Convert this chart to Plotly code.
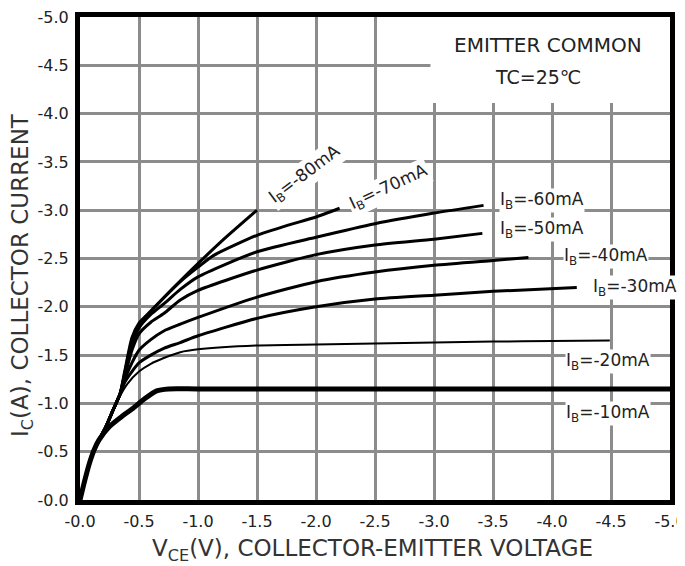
import plotly.graph_objects as go

# ---- data ----
tick_vals = [0, -0.5, -1.0, -1.5, -2.0, -2.5, -3.0, -3.5, -4.0, -4.5, -5.0]
tick_text = ["-0.0", "-0.5", "-1.0", "-1.5", "-2.0", "-2.5", "-3.0", "-3.5", "-4.0", "-4.5", "-5.0"]

vce_10 = [0, -0.04, -0.08, -0.12, -0.16, -0.25, -0.35, -0.45, -0.55, -0.65, -0.75, -1.0, -5.0]
ic_10 = [0, -0.2, -0.38, -0.52, -0.62, -0.76, -0.86, -0.95, -1.05, -1.13, -1.15, -1.15, -1.15]

vce_20 = [0, -0.04, -0.08, -0.12, -0.16, -0.22, -0.28, -0.34, -0.4, -0.5, -0.6, -0.71, -0.85, -1.0, -1.5, -2.0, -2.5, -3.0, -3.5, -4.0, -4.49]
ic_20 = [0, -0.2, -0.38, -0.52, -0.62, -0.76, -0.93, -1.08, -1.2, -1.33, -1.41, -1.47, -1.53, -1.56, -1.6, -1.61, -1.62, -1.63, -1.64, -1.645, -1.65]

vce_30 = [0, -0.04, -0.08, -0.12, -0.16, -0.22, -0.28, -0.34, -0.38, -0.44, -0.5, -0.6, -0.71, -0.85, -1.0, -1.5, -2.0, -2.5, -3.0, -3.5, -4.21]
ic_30 = [0, -0.2, -0.38, -0.52, -0.62, -0.76, -0.93, -1.1, -1.22, -1.33, -1.42, -1.5, -1.57, -1.63, -1.7, -1.88, -2.0, -2.08, -2.12, -2.16, -2.2]

vce_40 = [0, -0.04, -0.08, -0.12, -0.16, -0.22, -0.28, -0.34, -0.38, -0.44, -0.5, -0.6, -0.71, -0.85, -1.0, -1.5, -2.0, -2.5, -3.0, -3.5, -3.8]
ic_40 = [0, -0.2, -0.38, -0.52, -0.62, -0.76, -0.93, -1.1, -1.25, -1.42, -1.55, -1.66, -1.75, -1.82, -1.89, -2.1, -2.26, -2.36, -2.43, -2.48, -2.51]

vce_50 = [0, -0.04, -0.08, -0.12, -0.16, -0.22, -0.28, -0.34, -0.38, -0.44, -0.5, -0.6, -0.71, -0.85, -1.0, -1.5, -2.0, -2.5, -3.0, -3.41]
ic_50 = [0, -0.2, -0.38, -0.52, -0.62, -0.76, -0.93, -1.1, -1.28, -1.55, -1.72, -1.84, -1.93, -2.07, -2.17, -2.38, -2.54, -2.64, -2.7, -2.76]

vce_60 = [0, -0.04, -0.08, -0.12, -0.16, -0.22, -0.28, -0.34, -0.38, -0.44, -0.5, -0.6, -0.71, -0.85, -1.0, -1.5, -2.0, -2.5, -3.0, -3.42]
ic_60 = [0, -0.2, -0.38, -0.52, -0.62, -0.76, -0.93, -1.1, -1.3, -1.6, -1.78, -1.92, -2.03, -2.18, -2.31, -2.57, -2.72, -2.86, -2.97, -3.05]

vce_70 = [0, -0.04, -0.08, -0.12, -0.16, -0.22, -0.28, -0.34, -0.38, -0.44, -0.5, -0.57, -0.7, -0.85, -1.0, -1.13, -1.5, -1.75, -2.0, -2.2]
ic_70 = [0, -0.2, -0.38, -0.52, -0.62, -0.76, -0.93, -1.1, -1.32, -1.65, -1.81, -1.91, -2.08, -2.26, -2.41, -2.53, -2.74, -2.84, -2.93, -3.02]

vce_80 = [0, -0.04, -0.08, -0.12, -0.16, -0.22, -0.28, -0.34, -0.38, -0.44, -0.5, -0.57, -0.73, -0.96, -1.21, -1.5]
ic_80 = [0, -0.2, -0.38, -0.52, -0.62, -0.76, -0.93, -1.1, -1.34, -1.68, -1.83, -1.92, -2.12, -2.4, -2.69, -3.0]

series = [
    (vce_10, ic_10, 5),
    (vce_20, ic_20, 2),
    (vce_30, ic_30, 3),
    (vce_40, ic_40, 3),
    (vce_50, ic_50, 3),
    (vce_60, ic_60, 3),
    (vce_70, ic_70, 3),
    (vce_80, ic_80, 3),
]

label_texts = ["I<sub>B</sub>=-10mA", "I<sub>B</sub>=-20mA", "I<sub>B</sub>=-30mA", "I<sub>B</sub>=-40mA",
               "I<sub>B</sub>=-50mA", "I<sub>B</sub>=-60mA", "I<sub>B</sub>=-70mA", "I<sub>B</sub>=-80mA"]

FONT = "DejaVu Sans"

fig = go.Figure()
for vx, iy, w in series:
    fig.add_trace(go.Scatter(x=vx, y=iy, mode="lines",
                             line=dict(color="black", width=w, shape="spline", smoothing=0.6),
                             showlegend=False, hoverinfo="skip"))

axis_common = dict(
    range=[0, -5], tickvals=tick_vals, ticktext=tick_text,
    showgrid=True, gridcolor="#8c8c8c", gridwidth=3,
    showline=True, linecolor="black", linewidth=5, mirror=True,
    zeroline=False, ticks="", layer="above traces", automargin=False,
    ticklabeloverflow="allow",
    tickfont=dict(family=FONT, size=16, color="#222"),
)
fig.update_xaxes(**axis_common, ticklabelstandoff=3)
fig.update_yaxes(**axis_common, ticklabelstandoff=3)

# white box behind the condition text (covers grid lines)
fig.add_shape(type="rect", xref="x", yref="y", x0=-2.97, x1=-5.0, y0=-4.11, y1=-5.0,
              fillcolor="white", line=dict(width=0), layer="between")

ann = []
lab_font = dict(family=FONT, size=17, color="#222")
# rotated labels
ann.append(dict(x=-1.907, y=-3.37, text=label_texts[7], textangle=-37, showarrow=False,
                font=lab_font, bgcolor="white", xanchor="center", yanchor="middle"))
ann.append(dict(x=-2.62, y=-3.23, text=label_texts[6], textangle=-25, showarrow=False,
                font=lab_font, bgcolor="white", xanchor="center", yanchor="middle"))
# horizontal labels
for txt, lx, ly in [(label_texts[5], -3.55, -3.1), (label_texts[4], -3.55, -2.8),
                    (label_texts[3], -4.09, -2.52), (label_texts[2], -4.34, -2.2),
                    (label_texts[1], -4.11, -1.43), (label_texts[0], -4.11, -0.9)]:
    ann.append(dict(x=lx, y=ly, text=txt, showarrow=False, font=lab_font, bgcolor="white",
                    xanchor="left", yanchor="middle", borderpad=0))

ann.append(dict(x=-3.97, y=-4.71, text="EMITTER COMMON", showarrow=False,
                font=dict(family=FONT, size=20, color="#222"), xanchor="center", yanchor="middle"))
ann.append(dict(x=-3.88, y=-4.38, text="TC=25℃", showarrow=False,
                font=dict(family=FONT, size=19, color="#222"), xanchor="center", yanchor="middle"))

# axis titles
ann.append(dict(xref="paper", yref="paper", x=0.495, y=0, yshift=-50,
                text="V<sub>CE</sub>(V), COLLECTOR-EMITTER VOLTAGE", showarrow=False,
                font=dict(family=FONT, size=23, color="#333"), xanchor="center", yanchor="middle"))
ann.append(dict(xref="paper", yref="paper", x=0, xshift=-58, y=0.466,
                text="I<sub>C</sub>(A), COLLECTOR CURRENT", showarrow=False, textangle=-90,
                font=dict(family=FONT, size=23, color="#333"), xanchor="center", yanchor="middle"))

# the page body adds an 8px offset, so the figure is sized to fit the window
fig.update_layout(
    width=677, height=558,
    margin=dict(l=72, r=15, t=9, b=66),
    paper_bgcolor="white", plot_bgcolor="white",
    annotations=ann, showlegend=False,
)

fig.write_html("out.html")
